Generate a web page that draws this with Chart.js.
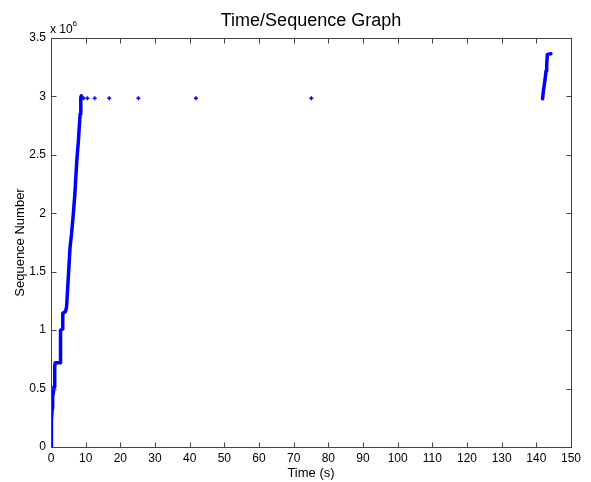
<!DOCTYPE html>
<html>
<head>
<meta charset="utf-8">
<script src="https://cdn.jsdelivr.net/npm/chart.js@4.4.1/dist/chart.umd.min.js"></script>
<style>
  html, body { margin: 0; padding: 0; background: #fff; }
  #c { display: block; }
</style>
</head>
<body>
<canvas id="c" width="591" height="482"></canvas>
<script>
// ---- data ----
const rampTime = [0.0, 0.05, 0.2, 0.35, 0.48, 0.7, 0.87, 1.0, 1.15, 1.2, 2.6, 2.7, 2.8, 3.3, 3.4, 4.2, 4.5, 5.0, 5.5, 5.95, 6.45, 6.9, 7.4, 7.9, 8.4, 8.6, 8.75];
const rampSeq  = [0, 60000, 230000, 330000, 430000, 470000, 515000, 600000, 690000, 720000, 720000, 850000, 1000000, 1010000, 1145000, 1160000, 1200000, 1455000, 1710000, 1830000, 2000000, 2170000, 2430000, 2620000, 2850000, 2990000, 3005000];

const dotTime = [9.4, 10.5, 12.6, 16.8, 25.2, 41.8, 75.1];
const dotSeq  = [2985000, 2985000, 2985000, 2985000, 2985000, 2985000, 2985000];

const endTime = [141.8, 142.0, 142.5, 142.8, 143.0, 143.2, 143.6, 144.2];
const endSeq  = [2980000, 3040000, 3140000, 3220000, 3280000, 3360000, 3362000, 3365000];

const xTicks = [0, 10, 20, 30, 40, 50, 60, 70, 80, 90, 100, 110, 120, 130, 140, 150];
const yTicks = [0, 500000, 1000000, 1500000, 2000000, 2500000, 3000000, 3500000];

const titleText = 'Time/Sequence Graph';
const xLabel = 'Time (s)';
const yLabel = 'Sequence Number';

const FONT = '"Liberation Sans", Arial, Helvetica, sans-serif';
const BLUE = '#0000ff';

function pts(xs, ys) { return xs.map((x, i) => ({ x: x, y: ys[i] })); }

const framePlugin = {
  id: 'frame',
  afterDraw(chart) {
    const ctx = chart.ctx;
    const a = chart.chartArea;
    const xs = chart.scales.x, ys = chart.scales.y;
    ctx.save();
    ctx.strokeStyle = '#444';
    ctx.lineWidth = 1;
    const L = Math.round(a.left) + 0.5, R = Math.round(a.right) + 0.5;
    const T = Math.round(a.top) + 0.5, B = Math.round(a.bottom) + 0.5;
    ctx.strokeRect(L, T, R - L, B - T);
    ctx.beginPath();
    const tl = 5;
    xTicks.forEach(v => {
      const px = Math.round(xs.getPixelForValue(v)) + 0.5;
      ctx.moveTo(px, B); ctx.lineTo(px, B - tl);
      ctx.moveTo(px, T); ctx.lineTo(px, T + tl);
    });
    yTicks.forEach(v => {
      const py = Math.round(ys.getPixelForValue(v)) + 0.5;
      ctx.moveTo(L, py); ctx.lineTo(L + tl, py);
      ctx.moveTo(R, py); ctx.lineTo(R - tl, py);
    });
    ctx.stroke();

    const cx = (a.left + a.right) / 2;
    const cy = (a.top + a.bottom) / 2;
    ctx.fillStyle = '#000';
    ctx.textAlign = 'center';
    ctx.textBaseline = 'alphabetic';
    ctx.font = '18px ' + FONT;
    ctx.fillText(titleText, cx, 26);
    ctx.font = '13px ' + FONT;
    ctx.fillText(xLabel, cx, 477);
    ctx.save();
    ctx.translate(24, cy);
    ctx.rotate(-Math.PI / 2);
    ctx.fillText(yLabel, 0, 0);
    ctx.restore();
    ctx.textAlign = 'left';
    ctx.font = '12px ' + FONT;
    ctx.fillText('x 10', 50, 32.5);
    ctx.font = '8px ' + FONT;
    ctx.fillText('6', 72.5, 25.5);
    ctx.restore();
  }
};

new Chart(document.getElementById('c'), {
  type: 'scatter',
  data: {
    datasets: [
      { data: pts(rampTime, rampSeq), showLine: true, borderColor: BLUE, backgroundColor: BLUE,
        borderWidth: 3.5, pointRadius: 0, tension: 0, borderJoinStyle: 'round', borderCapStyle: 'round' },
      { data: pts(endTime, endSeq), showLine: true, borderColor: BLUE, backgroundColor: BLUE,
        borderWidth: 3.5, pointRadius: 0, tension: 0, borderJoinStyle: 'round', borderCapStyle: 'round' },
      { data: pts(dotTime, dotSeq), showLine: false, borderColor: BLUE, backgroundColor: BLUE,
        pointStyle: 'cross', pointRadius: 2, borderWidth: 1.5 }
    ]
  },
  options: {
    responsive: false,
    animation: false,
    devicePixelRatio: 1,
    layout: { padding: { top: 38, right: 20, left: 0, bottom: 0 } },
    plugins: { legend: { display: false }, tooltip: { enabled: false }, title: { display: false } },
    scales: {
      x: {
        type: 'linear', min: 0, max: 150,
        afterBuildTicks(s) { s.ticks = xTicks.map(v => ({ value: v })); },
        afterFit(s) { s.height = 35; },
        ticks: { color: '#000', font: { family: FONT, size: 12 }, padding: 4, maxRotation: 0, autoSkip: false },
        grid: { display: false, drawTicks: false },
        border: { display: false }
      },
      y: {
        type: 'linear', min: 0, max: 3500000,
        afterBuildTicks(s) { s.ticks = yTicks.map(v => ({ value: v })); },
        afterFit(s) { s.width = 51; },
        ticks: { color: '#000', font: { family: FONT, size: 12 }, padding: 5,
                 callback: v => String(v / 1e6) },
        grid: { display: false, drawTicks: false },
        border: { display: false }
      }
    }
  },
  plugins: [framePlugin]
});
</script>
</body>
</html>
